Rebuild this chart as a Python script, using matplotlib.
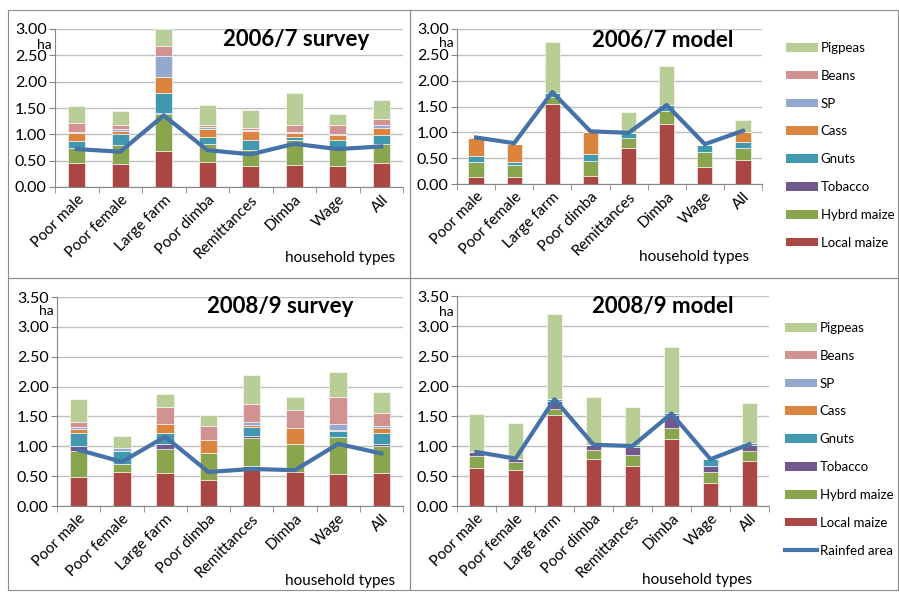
import numpy as np
import matplotlib
matplotlib.use('Agg')
import matplotlib.pyplot as plt
from matplotlib.patches import Rectangle, Patch
from matplotlib.lines import Line2D

plt.rcParams['font.family'] = ['Lato', 'DejaVu Sans']

households = ['Poor male', 'Poor female', 'Large farm', 'Poor dimba',
              'Remittances', 'Dimba', 'Wage', 'All']
crops = ['Local maize', 'Hybrd maize', 'Tobacco', 'Gnuts', 'Cass', 'SP', 'Beans', 'Pigpeas']
crop_colors = ['#AA4643', '#89A54E', '#71588F', '#4198AF', '#DB843D', '#93A9CF', '#D19392', '#B9CD96']

# rows follow the order of `crops`, columns follow `households`
survey_0607 = [
    [0.46, 0.43, 0.68, 0.48, 0.40, 0.42, 0.40, 0.46],
    [0.28, 0.36, 0.71, 0.34, 0.30, 0.48, 0.36, 0.35],
    [0.01, 0.00, 0.02, 0.00, 0.00, 0.00, 0.00, 0.01],
    [0.13, 0.21, 0.38, 0.12, 0.19, 0.05, 0.13, 0.16],
    [0.14, 0.06, 0.29, 0.16, 0.17, 0.08, 0.09, 0.14],
    [0.03, 0.04, 0.41, 0.04, 0.02, 0.01, 0.03, 0.06],
    [0.16, 0.07, 0.19, 0.04, 0.04, 0.13, 0.16, 0.12],
    [0.33, 0.28, 0.32, 0.37, 0.35, 0.62, 0.21, 0.35],
]
model_0607 = [
    [0.14, 0.14, 1.54, 0.16, 0.70, 1.17, 0.33, 0.46],
    [0.28, 0.22, 0.15, 0.29, 0.20, 0.25, 0.28, 0.24],
    [0.00, 0.00, 0.00, 0.00, 0.00, 0.00, 0.00, 0.00],
    [0.13, 0.07, 0.08, 0.14, 0.08, 0.10, 0.15, 0.12],
    [0.35, 0.34, 0.00, 0.42, 0.00, 0.00, 0.00, 0.19],
    [0.00, 0.00, 0.00, 0.00, 0.00, 0.00, 0.00, 0.00],
    [0.00, 0.00, 0.00, 0.00, 0.00, 0.00, 0.00, 0.00],
    [0.00, 0.00, 0.97, 0.00, 0.41, 0.76, 0.00, 0.23],
]
survey_0809 = [
    [0.48, 0.57, 0.56, 0.44, 0.67, 0.57, 0.53, 0.56],
    [0.44, 0.14, 0.40, 0.44, 0.47, 0.47, 0.63, 0.45],
    [0.09, 0.00, 0.07, 0.00, 0.03, 0.00, 0.00, 0.03],
    [0.21, 0.21, 0.19, 0.00, 0.15, 0.00, 0.10, 0.18],
    [0.07, 0.00, 0.15, 0.23, 0.04, 0.27, 0.02, 0.09],
    [0.03, 0.05, 0.01, 0.00, 0.05, 0.00, 0.09, 0.03],
    [0.09, 0.00, 0.28, 0.23, 0.30, 0.30, 0.46, 0.22],
    [0.38, 0.20, 0.21, 0.19, 0.49, 0.22, 0.41, 0.35],
]
model_0809 = [
    [0.64, 0.60, 1.51, 0.78, 0.66, 1.11, 0.39, 0.75],
    [0.19, 0.14, 0.11, 0.15, 0.19, 0.19, 0.18, 0.17],
    [0.07, 0.05, 0.13, 0.09, 0.14, 0.21, 0.09, 0.10],
    [0.00, 0.00, 0.04, 0.00, 0.03, 0.04, 0.13, 0.03],
    [0.00, 0.00, 0.00, 0.00, 0.00, 0.00, 0.00, 0.00],
    [0.00, 0.00, 0.00, 0.00, 0.00, 0.00, 0.00, 0.00],
    [0.00, 0.00, 0.00, 0.00, 0.00, 0.00, 0.00, 0.00],
    [0.64, 0.59, 1.41, 0.79, 0.63, 1.10, 0.00, 0.66],
]
rainfed_survey_0607 = [0.72, 0.67, 1.36, 0.70, 0.62, 0.82, 0.72, 0.77]
rainfed_model_0607 = [0.90, 0.79, 1.78, 1.02, 0.99, 1.53, 0.77, 1.03]
rainfed_survey_0809 = [0.94, 0.74, 1.16, 0.57, 0.62, 0.60, 1.04, 0.88]
rainfed_model_0809 = [0.90, 0.79, 1.78, 1.02, 1.00, 1.54, 0.78, 1.03]

W, H = 899, 593
fig = plt.figure(figsize=(W / 100, H / 100), dpi=100)


def px_axes(x0, y0, x1, y1):
    return fig.add_axes([x0 / W, 1 - y1 / H, (x1 - x0) / W, (y1 - y0) / H])


def panel(box, data, rainfed, title, ymax, title_xy, ha_y):
    ax = px_axes(*box)
    x = np.arange(len(households))
    bottom = np.zeros(len(households))
    for vals, c in zip(data, crop_colors):
        ax.bar(x, vals, 0.4, bottom=bottom, color=c, edgecolor='white', linewidth=0.4, zorder=2)
        bottom += np.array(vals)
    ax.plot(x, rainfed, color='#4572A7', linewidth=3, zorder=3)
    ax.set_xlim(-0.5, len(households) - 0.5)
    ax.set_ylim(0, ymax)
    ticks = np.arange(0, ymax + 0.01, 0.5)
    ax.set_yticks(ticks)
    ax.set_yticklabels(['%.2f' % v for v in ticks], fontsize=11.5)
    ax.set_xticks(x)
    ax.set_xticklabels(households, rotation=45, ha='right', rotation_mode='anchor', fontsize=11)
    ax.set_xticks(np.arange(-0.5, len(households)), minor=True)
    ax.tick_params(axis='x', which='major', length=0, pad=4)
    ax.tick_params(axis='x', which='minor', length=4, color='#868686')
    ax.tick_params(axis='y', length=4, color='#868686', pad=2)
    ax.yaxis.grid(True, color='#BFBFBF', linewidth=1)
    ax.set_axisbelow(True)
    for s in ['top', 'right']:
        ax.spines[s].set_visible(False)
    for s in ['left', 'bottom']:
        ax.spines[s].set_color('#868686')
    fig.text((box[0] - 3) / W, 1 - ha_y / H, 'ha', ha='right', va='center', fontsize=10)
    fig.text(title_xy[0] / W, 1 - title_xy[1] / H, title, ha='center', va='center',
             fontsize=16, fontweight='bold')
    return ax


panel((55, 29, 403, 187), survey_0607, rainfed_survey_0607, '2006/7 survey', 3, (296, 40), 45)
panel((457, 29, 762, 184), model_0607, rainfed_model_0607, '2006/7 model', 3, (663, 40), 43)
panel((57, 297, 403, 506), survey_0809, rainfed_survey_0809, '2008/9 survey', 3.5, (280, 306), 311)
panel((457, 296, 769, 506), model_0809, rainfed_model_0809, '2008/9 model', 3.5, (663, 306), 312)

for xy in [(340, 258), (694, 257), (340, 581), (697, 580)]:
    fig.text(xy[0] / W, 1 - xy[1] / H, 'household types', ha='center', va='center', fontsize=11)

# panel borders
for (x0, y0, x1, y1) in [(8, 10, 410, 278), (410, 10, 898, 278), (8, 278, 410, 590), (410, 278, 898, 590)]:
    fig.patches.append(Rectangle((x0 / W, 1 - y1 / H), (x1 - x0) / W, (y1 - y0) / H,
                                 transform=fig.transFigure, fill=False, edgecolor='#8C8C8C', linewidth=0.8))

leg_kw = dict(loc='upper left', frameon=False, fontsize=9.5, handlelength=2.4, handleheight=0.65,
              labelspacing=1.2, handletextpad=0.25)
handles = [Patch(facecolor=c, label=n) for n, c in zip(crops, crop_colors)][::-1]
fig.legend(handles=handles, bbox_to_anchor=(774 / W, 1 - 30 / H), **leg_kw)
handles2 = handles + [Line2D([0], [0], color='#4572A7', linewidth=3, label='Rainfed area')]
fig.legend(handles=handles2, bbox_to_anchor=(773 / W, 1 - 310 / H), **leg_kw)

fig.savefig('out.png', dpi=100)
